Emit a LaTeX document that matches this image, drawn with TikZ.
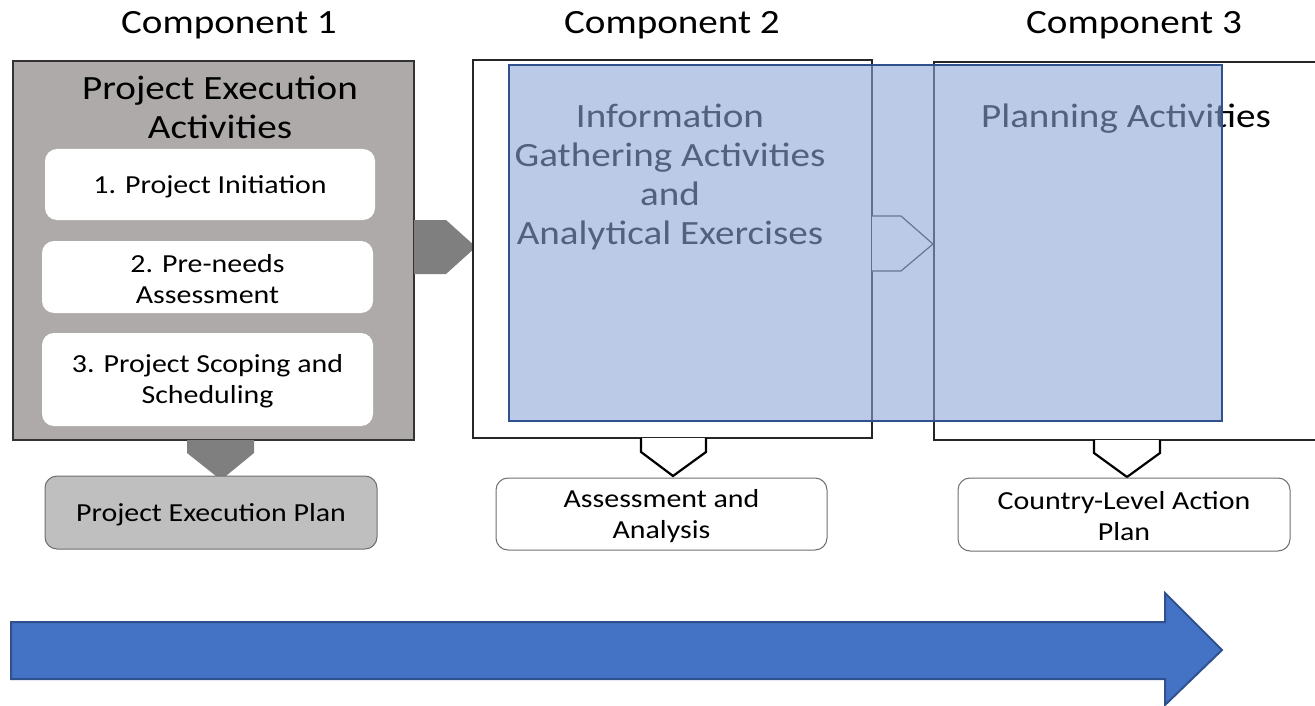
\documentclass[tikz,border=0pt]{standalone}
\usepackage{fontspec}
\setmainfont{Carlito}[FakeStretch=1.15]
\usetikzlibrary{calc}
\definecolor{grayfill}{RGB}{174,170,170}
\definecolor{darkarrow}{RGB}{127,127,127}
\definecolor{planfill}{RGB}{191,191,191}
\definecolor{ovl}{RGB}{140,165,214}
\definecolor{ovlborder}{RGB}{47,82,143}
\definecolor{bigblue}{RGB}{68,114,196}
\definecolor{softborder}{RGB}{110,110,110}
\begin{document}
\begin{tikzpicture}[x=1pt,y=-1pt,
  box/.style={inner sep=0pt, outer sep=0pt, anchor=north west},
  titlefont/.style={font=\fontsize{34}{39.3}\selectfont, align=center, inner sep=0pt, yshift=-3pt},
  smallfont/.style={font=\fontsize{26}{31}\selectfont, align=center, inner sep=0pt, yshift=-2pt},
  whitebox/.style={box, fill=white, rounded corners=12pt},
  outbox/.style={box, fill=white, draw=softborder, line width=1pt, rounded corners=12pt},
  chev/.style={draw=black, line width=2.2pt, fill=white, line join=miter},
  grayarrow/.style={fill=darkarrow}
]
\useasboundingbox (0,0) rectangle (1315,706);
\clip (0,0) rectangle (1315,706);

% component titles
\node[titlefont] (t1) at (229,22) {Component 1};
\node[titlefont] (t2) at (672,22) {Component 2};
\node[titlefont] (t3) at (1134,22) {Component 3};

% component 1
\node[box, fill=grayfill, draw=black!80, line width=1.5pt, minimum width=401pt, minimum height=379pt] (g) at (13,61) {};
\node[titlefont] (gt) at (220,104.5) {Project Execution\\Activities};
\node[whitebox, minimum width=330pt, minimum height=71pt] (s1) at (45,149) {};
\node[whitebox, minimum width=331pt, minimum height=72pt] (s2) at (42,241) {};
\node[whitebox, minimum width=331pt, minimum height=93pt] (s3) at (42,333) {};
\node[smallfont] at (s1.center) {1. Project Initiation};
\node[smallfont] at (s2.center) {2. Pre-needs\\Assessment};
\node[smallfont] at (s3.center) {3. Project Scoping and\\Scheduling};

% gray arrows
\fill[grayarrow] (g.east |- 0,220) -- (446,220) -- (476,247) -- (446,274) -- (g.east |- 0,274) -- cycle;
\fill[grayarrow] (187,440) -- (254,440) -- (254,453) -- (221,480) -- (187,453) -- cycle;

% project execution plan
\node[box, fill=planfill, draw=softborder, line width=1pt, rounded corners=12pt, minimum width=332pt, minimum height=73pt] (pep) at (45,476) {};
\node[smallfont] at (pep.center) {Project Execution Plan};

% component 2 and 3 boxes
\node[box, fill=white, draw=black!85, line width=1.3pt, minimum width=399pt, minimum height=378pt] (c2) at (473,60) {};
\node[box, fill=white, draw=black!85, line width=1.3pt, minimum width=390pt, minimum height=378pt] (c3) at (934,62) {};
\draw[draw=black!80, line width=1.2pt, fill=white] (c2.east |- 0,216) -- (901,216) -- (933,244) -- (901,271) -- (c2.east |- 0,271);
\node[titlefont] (c2t) at (670,174) {Information\\Gathering Activities\\and\\Analytical Exercises};
\node[titlefont] (c3t) at (1126,116) {Planning Activities};

% overlay
\node[box, fill=ovl, fill opacity=0.59, draw=ovlborder, draw opacity=1, line width=1.5pt, minimum width=713pt, minimum height=356pt] (ov) at (509,65) {};

% chevrons below
\draw[chev] (641,438) -- (641,452) -- (673,476) -- (706,452) -- (706,438);
\draw[chev] (1094,440) -- (1094,453) -- (1127,477) -- (1160,453) -- (1160,440);

% output boxes
\node[outbox, minimum width=331pt, minimum height=72pt] (aa) at (496,478) {};
\node[smallfont] at (aa.center) {Assessment and\\Analysis};
\node[outbox, minimum width=332pt, minimum height=73pt] (cl) at (958,478) {};
\node[smallfont] at (cl.center) {Country-Level Action\\Plan};

% big arrow
\draw[fill=bigblue, draw=ovlborder, line width=2pt, line join=miter] (11,622) -- (1165,622) -- (1165,593) -- (1222,650) -- (1165,705) -- (1165,679) -- (11,679) -- cycle;
\end{tikzpicture}
\end{document}
